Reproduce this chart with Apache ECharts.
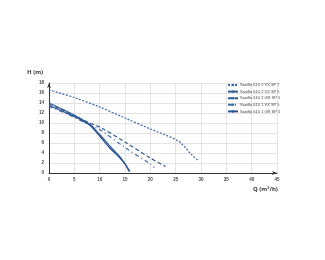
<!DOCTYPE html>
<html><head><meta charset="utf-8">
<script src="https://cdn.jsdelivr.net/npm/echarts@6/dist/echarts.min.js"></script>
<style>html,body{margin:0;padding:0;background:#fff}#c{width:325px;height:260px}</style>
</head><body><div id="c"></div>
<script>
var seriesNames = ['Saniflo 610 2 VX SP 7','Saniflo 610 2 VX SP 5','Saniflo 610 2 GR SP 5','Saniflo 610 1 VX SP 5','Saniflo 610 1 GR SP 5'];
var xTicks = [0,5,10,15,20,25,30,35,40,45];
var yTicks = [0,2,4,6,8,10,12,14,16,18];
var vx2sp7 = [[0,16.6],[5,15.1],[10,13.2],[15,11.0],[20,8.8],[23,7.6],[25,6.7],[26,6.0],[27,5.0],[28,3.8],[29.3,2.6]];
var vx2sp5 = [[0,14.0],[3,12.6],[6,11.0],[8,9.8],[10,7.7],[12,5.4],[14,3.2],[15.3,1.4],[16,0.3]];
var gr2sp5 = [[0,13.8],[4,12.0],[8,10.0],[10,9.2],[15,6.2],[20,3.0],[23,1.3]];
var vx1sp5 = [[0,13.3],[4,11.6],[8,9.6],[10,8.7],[15,5.1],[20,1.8],[20.8,1.1]];
var gr1sp5 = [[0,13.5],[3,12.2],[6,10.8],[8,9.6],[10,7.4],[12,5.0],[14,3.0],[15,1.8],[15.8,0.3]];
var dataSets = [vx2sp7, vx2sp5, gr2sp5, vx1sp5, gr1sp5];
var lineTypes = [[2,1.5],'solid',[4,2.5],[4,3,1,3],'solid'];
var colors = ['#3a6aa8','#2c5a96','#2c5a96','#3a6aa8','#27538e'];
var chart = echarts.init(document.getElementById('c'));
chart.setOption({
  animation:false,
  grid:{left:49,right:48,top:83,bottom:87},
  legend:{orient:'vertical',left:227,top:83,padding:0,itemWidth:10,itemHeight:3,itemGap:2.6,
    textStyle:{fontSize:4,color:'#444',padding:[0,0,0,-3]},
    data:seriesNames},
  graphic:[
    {type:'text',left:27,top:69,style:{text:'H (m)',fontSize:6,fontWeight:'bold',fill:'#333',fontFamily:'Noto Sans'}},
    {type:'text',left:253,top:186,style:{text:'Q (m³/h)',fontSize:6,fontWeight:'bold',fill:'#333',fontFamily:'Noto Sans'}}
  ],
  xAxis:{type:'value',min:0,max:45,interval:5,
    axisLine:{lineStyle:{color:'#333',width:1},symbol:['none','arrow'],symbolSize:[3,5]},
    axisTick:{show:false},
    axisLabel:{fontSize:4.5,color:'#444',margin:4,fontWeight:'bold',formatter:function(v){return xTicks.indexOf(v)>=0?String(v):'';}},
    splitLine:{show:true,lineStyle:{color:'#dcdcdc',width:0.8}}},
  yAxis:{type:'value',min:0,max:18,interval:2,
    axisLine:{show:true,lineStyle:{color:'#333',width:1},symbol:['none','arrow'],symbolSize:[3,5]},
    axisTick:{show:false},
    axisLabel:{fontSize:4.5,color:'#444',margin:5,fontWeight:'bold',formatter:function(v){return yTicks.indexOf(v)>=0?String(v):'';}},
    splitLine:{show:true,lineStyle:{color:'#dcdcdc',width:0.8}}},
  series: seriesNames.map(function(n,i){
    return {name:n,type:'line',data:dataSets[i],smooth:0.3,showSymbol:false,symbol:'none',
      lineStyle:{color:colors[i],width:1.2,type:lineTypes[i]},itemStyle:{color:colors[i]}};
  })
});
</script></body></html>
